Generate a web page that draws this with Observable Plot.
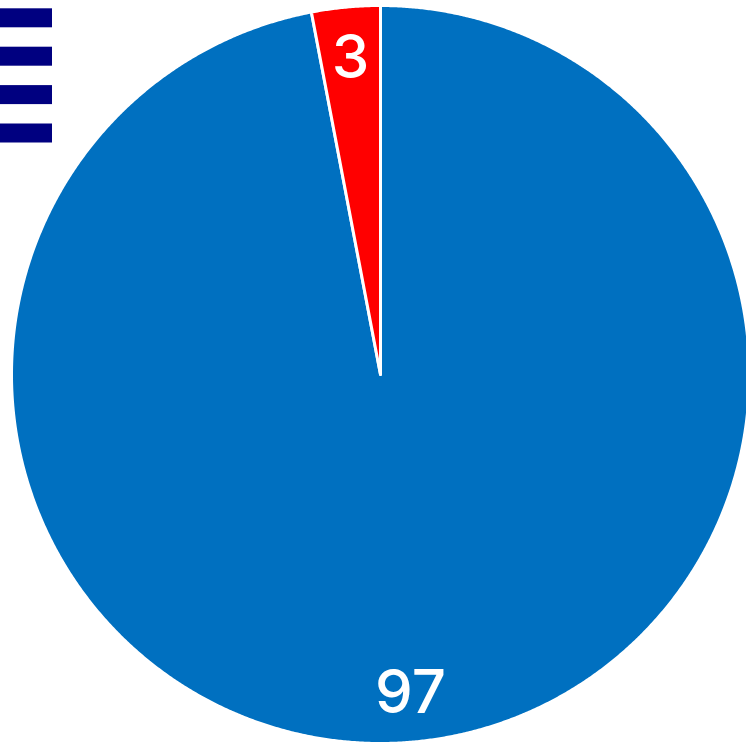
<!DOCTYPE html>
<html>
<head>
<meta charset="utf-8">
<script src="https://cdn.jsdelivr.net/npm/d3@7"></script>
<script src="https://cdn.jsdelivr.net/npm/@observablehq/plot@0.6"></script>
<style>
  html, body { margin: 0; padding: 0; background: #fff; }
  #chart { position: relative; width: 746px; height: 744px; overflow: hidden; }
</style>
</head>
<body>
<div id="chart"></div>
<script>
// Data
const categories = ["Blue", "Red"];
const values = [97, 3];
const colors = ["#0070c0", "#ff0000"];
const legendItems = ["Series 1", "Series 2", "Series 3", "Series 4"];

// Layout
const W = 746, H = 744;
const cx = 380, cy = 374, R = 369;
const labelR = R * 0.865;

const pie = d3.pie().sort(null).value(d => d.value)(
  categories.map((c, i) => ({category: c, value: values[i], color: colors[i]}))
);

const pt = (a, r) => [cx + r * Math.sin(a), cy - r * Math.cos(a)];

const slicePoints = [];
pie.forEach(s => {
  const n = Math.max(4, Math.ceil((s.endAngle - s.startAngle) / (Math.PI / 720)));
  const [x0, y0] = pt(0, 0);
  slicePoints.push({category: s.data.category, color: s.data.color, x: x0, y: y0});
  for (let k = 0; k <= n; k++) {
    const a = s.startAngle + (s.endAngle - s.startAngle) * k / n;
    const [x, y] = pt(a, R);
    slicePoints.push({category: s.data.category, color: s.data.color, x, y});
  }
});

const labels = pie.map(s => {
  const a = (s.startAngle + s.endAngle) / 2;
  const [x, y] = pt(a, labelR);
  return {x, y, text: String(s.data.value)};
});

const legendRows = legendItems.map((name, i) => ({
  name, y1: 8.3 + i * 38.4, y2: 8.3 + i * 38.4 + 19
}));

const plot = Plot.plot({
  width: W, height: H,
  margin: 0,
  x: {domain: [0, W], range: [0, W], axis: null},
  y: {domain: [0, H], range: [0, H], axis: null},
  style: {background: "#fff", fontFamily: "Inter, Liberation Sans, Arial, sans-serif"},
  marks: [
    Plot.line(slicePoints, {
      x: "x", y: "y", z: "category",
      fill: d => d.color, stroke: "#fff", strokeWidth: 3,
      curve: "linear-closed", strokeLinejoin: "round"
    }),
    Plot.text(labels, {
      x: "x", y: "y", text: "text", dy: 2,
      fill: "#fff", fontSize: 60, fontWeight: 500, textAnchor: "middle", lineAnchor: "middle"
    }),
    Plot.rect(legendRows, {
      x1: 0, x2: 52, y1: "y1", y2: "y2", fill: "#000080"
    })
  ]
});
document.getElementById("chart").appendChild(plot);
</script>
</body>
</html>
